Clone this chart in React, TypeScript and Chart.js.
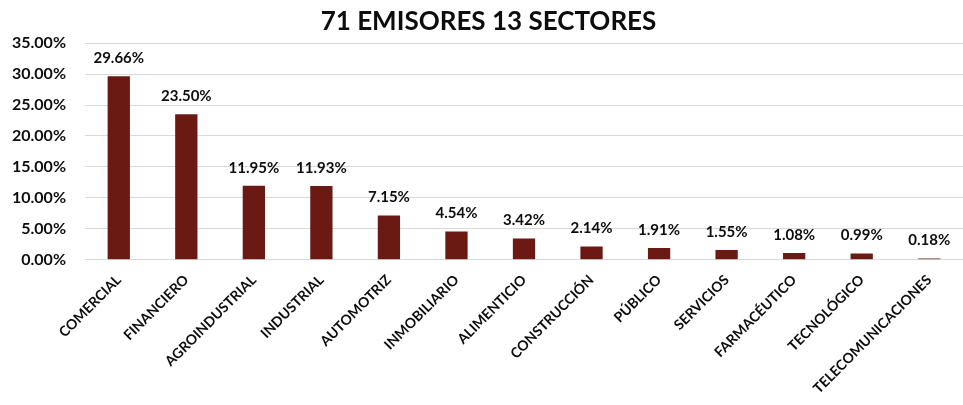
import React, { useEffect, useRef } from "react";
import { Chart, registerables } from "chart.js";

Chart.register(...registerables);

const categories = [
  "COMERCIAL",
  "FINANCIERO",
  "AGROINDUSTRIAL",
  "INDUSTRIAL",
  "AUTOMOTRIZ",
  "INMOBILIARIO",
  "ALIMENTICIO",
  "CONSTRUCCIÓN",
  "PÚBLICO",
  "SERVICIOS",
  "FARMACÉUTICO",
  "TECNOLÓGICO",
  "TELECOMUNICACIONES",
];

const values = [29.66, 23.5, 11.95, 11.93, 7.15, 4.54, 3.42, 2.14, 1.91, 1.55, 1.08, 0.99, 0.18];

const yMax = 35;
const yStep = 5;
const titleText = "71 EMISORES 13 SECTORES";

const FONT = "Lato, 'Open Sans', sans-serif";
const TEXT = "#0d0d0d";

const labelPlugin = {
  id: "barLabels",
  afterDatasetsDraw(chart: any) {
    const ctx = chart.ctx;
    const meta = chart.getDatasetMeta(0);
    ctx.save();
    ctx.font = `bold 15px ${FONT}`;
    ctx.fillStyle = TEXT;
    ctx.textAlign = "center";
    ctx.textBaseline = "middle";
    meta.data.forEach((bar: any, i: number) => {
      ctx.fillText(values[i].toFixed(2) + "%", bar.x, bar.y - 18);
    });
    ctx.restore();
  },
};

export default function App() {
  const ref = useRef<HTMLCanvasElement | null>(null);

  useEffect(() => {
    document.body.style.margin = "0";
    const chart = new Chart(ref.current as HTMLCanvasElement, {
      type: "bar",
      data: {
        labels: categories,
        datasets: [
          {
            data: values,
            backgroundColor: "#6B1A13",
            barPercentage: 0.33,
            categoryPercentage: 1,
          },
        ],
      },
      options: {
        animation: false,
        responsive: false,
        maintainAspectRatio: false,
        layout: { padding: { left: 8, right: -6, top: 6, bottom: 4 } },
        plugins: {
          legend: { display: false },
          tooltip: { enabled: false },
          title: {
            display: true,
            text: titleText,
            color: TEXT,
            font: { family: FONT, size: 26, weight: "bold" },
            padding: { top: 0, bottom: 6 },
          },
        },
        scales: {
          x: {
            grid: { display: false },
            border: { display: false },
            afterFit: (scale: any) => {
              scale.paddingLeft = 0;
              scale.paddingRight = 0;
            },
            ticks: {
              autoSkip: false,
              maxRotation: 45,
              minRotation: 45,
              color: TEXT,
              font: { family: FONT, size: 14, weight: "bold" },
              padding: 4,
            },
          },
          y: {
            min: 0,
            max: yMax,
            afterFit: (scale: any) => {
              scale.width = 77;
            },
            ticks: {
              stepSize: yStep,
              color: TEXT,
              font: { family: FONT, size: 16, weight: "bold" },
              padding: 19,
              callback: (v: any) => Number(v).toFixed(2) + "%",
            },
            grid: { color: "#d9d9d9", drawTicks: false, lineWidth: 1 },
            border: { display: false },
          },
        },
      },
      plugins: [labelPlugin],
    });
    return () => chart.destroy();
  }, []);

  return (
    <div style={{ width: 963, height: 405 }}>
      <canvas ref={ref} width={963} height={405} style={{ width: 963, height: 405, display: "block" }} />
    </div>
  );
}
